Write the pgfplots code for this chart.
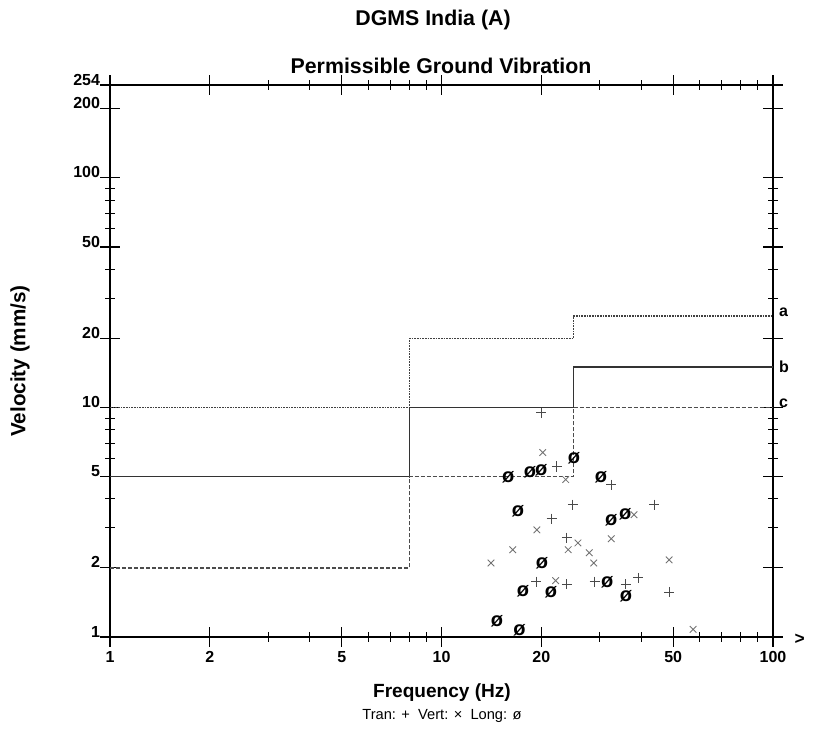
\documentclass[border=0pt]{standalone}
\usepackage{fontspec}
\setmainfont{Liberation Sans}
\usepackage{pgfplots}
\pgfplotsset{compat=1.18}

\definecolor{tranc}{HTML}{4A4A4A}
\definecolor{vertc}{HTML}{727272}
\definecolor{longc}{HTML}{3A3A3A}

\begin{document}
\begin{tikzpicture}
\useasboundingbox (-82.5pt,-71.25pt) rectangle (530.25pt,477.75pt);
\begin{axis}[
  name=ax, at={(0,0)}, anchor=south west,
  scale only axis, width=497.25pt, height=414pt,
  xmode=log, ymode=log,
  xmin=1, xmax=100, ymin=1, ymax=254,
  xtick={1,2,5,10,20,50,100}, xticklabels={1,2,5,10,20,50,100},
  minor xtick={3,4,6,7,8,9,30,40,60,70,80,90},
  ytick={1,2,5,10,20,50,100,200,254}, yticklabels={1,2,5,10,20,50,100,200,254},
  minor ytick={3,4,6,7,8,9,30,40,60,70,80,90},
  tick align=center, major tick length=15pt, minor tick length=7pt,
  every major tick/.append style={black, line width=0.8pt},
  every minor tick/.append style={black, line width=0.6pt},
  axis line style={black, line width=1pt},
  ticklabel style={font=\fontsize{12}{12}\selectfont\bfseries},
  yticklabel style={anchor=base east, xshift=3.5pt},
  clip=false,
]
% a: dotted
\addplot[black!75, line width=1pt, dash pattern=on 1.2pt off 0.8pt] coordinates {(1,10) (8,10) (8,20) (25,20) (25,25) (100,25)};
% b: solid
\addplot[black!80, line width=0.9pt] coordinates {(1,5) (8,5) (8,10) (25,10) (25,15) (100,15)};
% c: dashed
\addplot[black!70, line width=0.9pt, dash pattern=on 3pt off 1.5pt] coordinates {(1,2) (8,2) (8,5) (25,5) (25,10) (100,10)};

% Tran: +
\addplot[only marks, mark=+, mark size=3.8pt, tranc, mark options={line width=0.75pt}] coordinates {
(20.0,9.5) (22.3,5.53) (32.5,4.61) (24.9,3.77) (43.8,3.77) (21.5,3.28)
(23.9,2.71) (19.3,1.74) (23.9,1.70) (29.0,1.74) (36.0,1.70) (39.2,1.81) (48.6,1.57)};
% Vert: x
\addplot[only marks, mark=x, mark size=3.5pt, vertc, mark options={line width=0.65pt}] coordinates {
(20.2,6.36) (38.1,3.41) (19.4,2.93) (16.4,2.40) (14.1,2.10) (24.1,2.40)
(25.8,2.57) (27.9,2.33) (28.8,2.10) (32.5,2.68) (48.6,2.17) (22.1,1.76)
(23.7,4.85) (57.4,1.08)};
% Long: o-slash
\addplot[only marks, mark=text, text mark={\fontsize{15}{15}\selectfont\bfseries ø}, longc] coordinates {
(15.9,4.95) (18.5,5.20) (20.0,5.31) (25.1,5.99) (30.3,4.95) (17.0,3.52)
(32.5,3.24) (35.8,3.44) (20.1,2.10) (17.6,1.59) (21.4,1.56) (31.6,1.74)
(36.0,1.51) (14.7,1.17) (17.2,1.07)};

\node[anchor=west, font=\fontsize{12}{12}\selectfont\bfseries, xshift=1pt, yshift=3pt] at (axis cs:100,25) {a};
\node[anchor=west, font=\fontsize{12}{12}\selectfont\bfseries, xshift=1pt] at (axis cs:100,15) {b};
\node[anchor=west, font=\fontsize{12}{12}\selectfont\bfseries, xshift=1pt, yshift=3pt] at (axis cs:100,10) {c};
\node[font=\fontsize{13}{13}\selectfont\bfseries] at (axis cs:100,1) [xshift=20pt, yshift=-1.5pt] {>};
\end{axis}
\node[font=\fontsize{16}{16}\selectfont\bfseries] at (242.25pt,463pt) {DGMS India (A)};
\node[font=\fontsize{16}{16}\selectfont\bfseries] at (248.25pt,428.25pt) {Permissible Ground Vibration};
\node[font=\fontsize{15.5}{15.5}\selectfont\bfseries, rotate=90] at (-67.5pt,207pt) {Velocity (mm/s)};
\node[font=\fontsize{14.3}{14.3}\selectfont\bfseries] at (249pt,-42pt) {Frequency (Hz)};
\node[font=\fontsize{11}{11}\selectfont] at (249pt,-59.25pt) {Tran: +\ \ Vert: ×\ \ Long: ø};
\end{tikzpicture}
\end{document}
